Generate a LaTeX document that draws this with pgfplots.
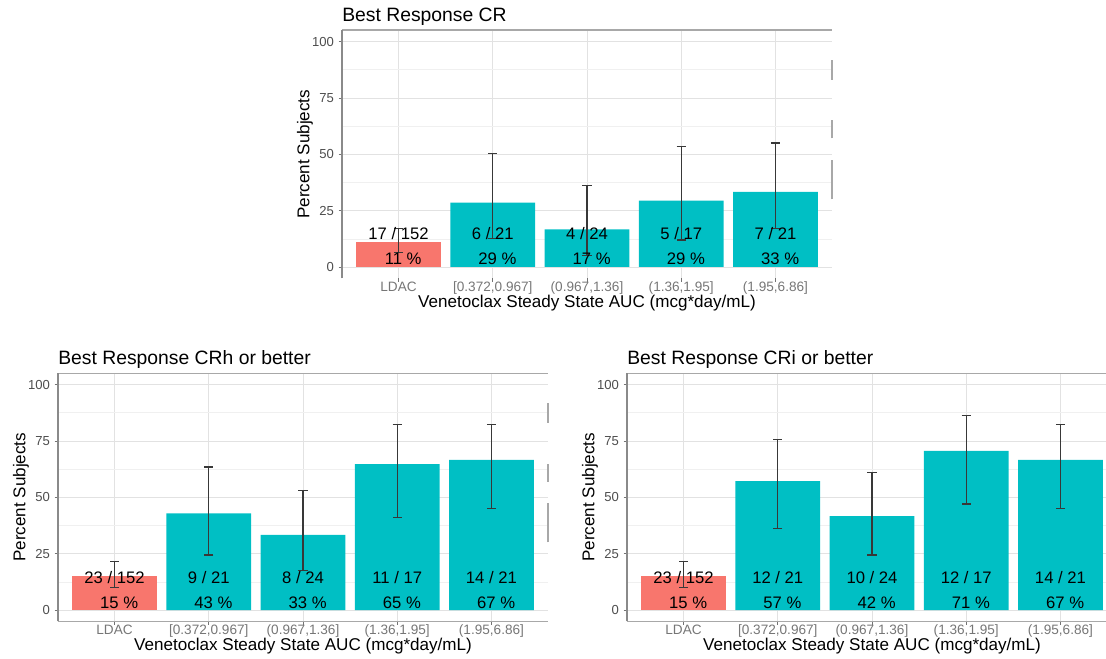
\documentclass[border=0pt]{standalone}
\usepackage{pgfplots}
\pgfplotsset{compat=1.18}
\usepackage{pgfplotstable}
\usepackage{fontspec}
\setmainfont{Liberation Sans}
\definecolor{ldac}{HTML}{F8766D}
\definecolor{ven}{HTML}{00BFC4}
\definecolor{ticklab}{HTML}{4D4D4D}
\definecolor{xticklab}{HTML}{767676}
\definecolor{gridmaj}{HTML}{E2E2E2}
\definecolor{gridmin}{HTML}{F0F0F0}
\definecolor{frame}{HTML}{A8A8A8}
\definecolor{leftline}{HTML}{8A8A8A}

\pgfplotstableread{
x y lo hi
0 11.18 6.5 17.0
1 28.57 12.5 50.2
2 16.67 5.0 36.0
3 29.41 12.0 53.5
4 33.33 17.0 55.0
}\crtab
\pgfplotstableread{
x y lo hi
0 15.13 10.0 21.4
1 42.86 24.4 63.4
2 33.33 17.5 53.0
3 64.71 41.0 82.4
4 66.67 45.0 82.4
}\crhtab
\pgfplotstableread{
x y lo hi
0 15.13 10.0 21.4
1 57.14 36.2 75.6
2 41.67 24.4 60.9
3 70.59 47.0 86.4
4 66.67 45.0 82.4
}\critab

\tikzset{lab/.style={font=\fontsize{12.5}{14}\selectfont, anchor=base, inner sep=0pt}}

\pgfplotsset{
  panel/.style={
    scale only axis, width=367.5pt, height=186pt,
    xmin=-0.6, xmax=4.6, ymin=-5, ymax=105,
    clip=false,
    xtick={0,1,2,3,4},
    xticklabels={LDAC,{[0.372,0.967]},{(0.967,1.36]},{(1.36,1.95]},{(1.95,6.86]}},
    ytick={0,25,50,75,100},
    minor ytick={12.5,37.5,62.5,87.5},
    xmajorgrids, ymajorgrids, yminorgrids,
    major grid style={gridmaj, line width=0.6pt},
    minor grid style={gridmin, line width=0.45pt},
    axis line style={draw=none},
    tick align=outside, xtick pos=left, ytick pos=left,
    major tick length=2.6pt, minor tick length=0pt,
    tick style={black!55, line width=0.6pt},
    /pgf/number format/assume math mode=true,
    xticklabel style={font=\fontsize{10.2}{11}\selectfont, text=xticklab, anchor=base, yshift=-7.3pt},
    yticklabel style={font=\fontsize{9.8}{10}\selectfont, text=ticklab},
    xlabel={Venetoclax Steady State AUC (mcg*day/mL)},
    xlabel style={at={(axis description cs:0.5,-0.0996)}, anchor=center, font=\fontsize{12.8}{14}\selectfont},
    ylabel={Percent Subjects},
    ylabel style={at={(axis description cs:-0.0755,0.5)}, anchor=center, font=\fontsize{12.8}{14}\selectfont},
    title style={at={(axis description cs:0,1)}, anchor=base west, yshift=0.3pt, inner xsep=0pt, font=\fontsize{14.5}{16}\selectfont},
  },
  ebar/.style={draw=none, no marks, forget plot,
    error bars/.cd, y dir=both, y explicit,
    error bar style={draw=black!78, line width=1pt},
    error mark options={rotate=90, draw=black!78, line width=1pt, mark size=3.4pt}},
}

\begin{document}
\begin{tikzpicture}
\useasboundingbox (0,0) rectangle (829.5pt,493.5pt);
\clip (0,0) rectangle (829.5pt,493.5pt);

% ---------------- Top panel: CR
\begin{axis}[panel, at={(256.5pt,284.8pt)}, anchor=south west, title={Best Response CR}]
\addplot[ybar, bar width=0.9, bar shift=0pt, fill=ldac, draw=none, restrict x to domain=-0.5:0.5] table[x=x,y=y] {\crtab};
\addplot[ybar, bar width=0.9, bar shift=0pt, fill=ven, draw=none, restrict x to domain=0.5:4.5] table[x=x,y=y] {\crtab};
\addplot[ebar] table[x=x, y=y, y error plus expr=\thisrow{hi}-\thisrow{y}, y error minus expr=\thisrow{y}-\thisrow{lo}] {\crtab};
\draw[frame, line width=1.2pt] (rel axis cs:0,1) -- (rel axis cs:1,1);
\draw[leftline, line width=0.8pt] (rel axis cs:0,0) -- (rel axis cs:0,1);
\draw[frame, line width=0.8pt] (axis cs:4.6,83) -- (axis cs:4.6,92);
\draw[frame, line width=0.8pt] (axis cs:4.6,57) -- (axis cs:4.6,65);
\draw[frame, line width=0.8pt] (axis cs:4.6,30) -- (axis cs:4.6,47.5);
\node[lab] at (axis cs:0,12.2) {17 / 152};
\node[lab] at (axis cs:1,12.2) {6 / 21};
\node[lab] at (axis cs:2,12.2) {4 / 24};
\node[lab] at (axis cs:3,12.2) {5 / 17};
\node[lab] at (axis cs:4,12.2) {7 / 21};
\node[lab, xshift=3.5pt] at (axis cs:0,1.1) {11 \%};
\node[lab, xshift=3.5pt] at (axis cs:1,1.1) {29 \%};
\node[lab, xshift=3.5pt] at (axis cs:2,1.1) {17 \%};
\node[lab, xshift=3.5pt] at (axis cs:3,1.1) {29 \%};
\node[lab, xshift=3.5pt] at (axis cs:4,1.1) {33 \%};
\end{axis}

% ---------------- Bottom left: CRh or better
\begin{axis}[panel, at={(43.5pt,27.5pt)}, anchor=south west, title={Best Response CRh or better}]
\addplot[ybar, bar width=0.9, bar shift=0pt, fill=ldac, draw=none, restrict x to domain=-0.5:0.5] table[x=x,y=y] {\crhtab};
\addplot[ybar, bar width=0.9, bar shift=0pt, fill=ven, draw=none, restrict x to domain=0.5:4.5] table[x=x,y=y] {\crhtab};
\addplot[ebar] table[x=x, y=y, y error plus expr=\thisrow{hi}-\thisrow{y}, y error minus expr=\thisrow{y}-\thisrow{lo}] {\crhtab};
\draw[frame, line width=1.2pt] (rel axis cs:0,1) -- (rel axis cs:1,1);
\draw[frame, line width=1pt] (rel axis cs:0,0) -- (rel axis cs:1,0);
\draw[leftline, line width=0.8pt] (rel axis cs:0,0) -- (rel axis cs:0,1);
\draw[frame, line width=0.8pt] (axis cs:4.6,83) -- (axis cs:4.6,92);
\draw[frame, line width=0.8pt] (axis cs:4.6,57) -- (axis cs:4.6,65);
\draw[frame, line width=0.8pt] (axis cs:4.6,30) -- (axis cs:4.6,47.5);
\node[lab] at (axis cs:0,11.9) {23 / 152};
\node[lab] at (axis cs:1,11.9) {9 / 21};
\node[lab] at (axis cs:2,11.9) {8 / 24};
\node[lab] at (axis cs:3,11.9) {11 / 17};
\node[lab] at (axis cs:4,11.9) {14 / 21};
\node[lab, xshift=3.5pt] at (axis cs:0,0.9) {15 \%};
\node[lab, xshift=3.5pt] at (axis cs:1,0.9) {43 \%};
\node[lab, xshift=3.5pt] at (axis cs:2,0.9) {33 \%};
\node[lab, xshift=3.5pt] at (axis cs:3,0.9) {65 \%};
\node[lab, xshift=3.5pt] at (axis cs:4,0.9) {67 \%};
\end{axis}

% ---------------- Bottom right: CRi or better
\begin{axis}[panel, at={(470.25pt,27.5pt)}, anchor=south west, title={Best Response CRi or better}]
\addplot[ybar, bar width=0.9, bar shift=0pt, fill=ldac, draw=none, restrict x to domain=-0.5:0.5] table[x=x,y=y] {\critab};
\addplot[ybar, bar width=0.9, bar shift=0pt, fill=ven, draw=none, restrict x to domain=0.5:4.5] table[x=x,y=y] {\critab};
\addplot[ebar] table[x=x, y=y, y error plus expr=\thisrow{hi}-\thisrow{y}, y error minus expr=\thisrow{y}-\thisrow{lo}] {\critab};
\draw[frame, line width=1.2pt] (rel axis cs:0,1) -- (rel axis cs:1,1);
\draw[frame, line width=1pt] (rel axis cs:0,0) -- (rel axis cs:1,0);
\draw[leftline, line width=0.8pt] (rel axis cs:0,0) -- (rel axis cs:0,1);
\node[lab] at (axis cs:0,11.9) {23 / 152};
\node[lab] at (axis cs:1,11.9) {12 / 21};
\node[lab] at (axis cs:2,11.9) {10 / 24};
\node[lab] at (axis cs:3,11.9) {12 / 17};
\node[lab] at (axis cs:4,11.9) {14 / 21};
\node[lab, xshift=3.5pt] at (axis cs:0,0.9) {15 \%};
\node[lab, xshift=3.5pt] at (axis cs:1,0.9) {57 \%};
\node[lab, xshift=3.5pt] at (axis cs:2,0.9) {42 \%};
\node[lab, xshift=3.5pt] at (axis cs:3,0.9) {71 \%};
\node[lab, xshift=3.5pt] at (axis cs:4,0.9) {67 \%};
\end{axis}
\end{tikzpicture}
\end{document}
